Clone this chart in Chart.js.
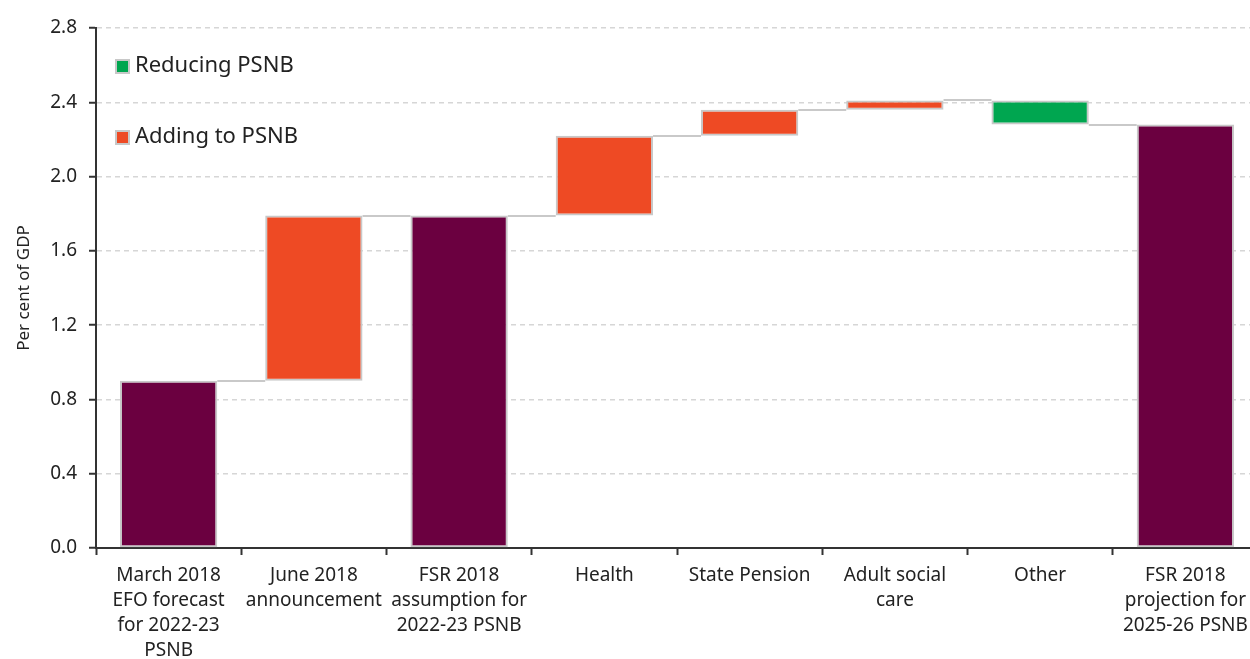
<!DOCTYPE html>
<html>
<head>
<meta charset="utf-8">
<script src="https://cdn.jsdelivr.net/npm/chart.js@4/dist/chart.umd.min.js"></script>
<style>
  html, body { margin: 0; padding: 0; background: #fff; overflow: hidden; }
  #wrap { width: 1250px; height: 659px; overflow: hidden; position: relative; }
  #wrap canvas { position: absolute; left: 0; top: 0; }
</style>
</head>
<body>
<div id="wrap"><canvas id="chart" width="1258" height="680"></canvas></div>
<script>
// --- data ---
const categories = [
  ['March 2018', 'EFO forecast', 'for 2022-23', 'PSNB'],
  ['June 2018', 'announcement'],
  ['FSR 2018', 'assumption for', '2022-23 PSNB'],
  ['Health'],
  ['State Pension'],
  ['Adult social', 'care'],
  ['Other'],
  ['FSR 2018', 'projection for', '2025-26 PSNB']
];
const barStart = [0, 0.9, 0, 1.79, 2.22, 2.36, 2.41, 0];
const barEnd   = [0.9, 1.79, 1.79, 2.22, 2.36, 2.41, 2.28, 2.28];
const barKind  = ['total', 'add', 'total', 'add', 'add', 'add', 'reduce', 'total'];
const yTicks   = [0, 0.4, 0.8, 1.2, 1.6, 2.0, 2.4, 2.8];

const colours = { total: '#6b0040', add: '#ee4a24', reduce: '#00a650' };
const FONT = '"Noto Sans", sans-serif';
const BAR_PCT = 0.67;

function seriesFor(kind) {
  return barStart.map((s, i) => barKind[i] === kind ? [s, barEnd[i]] : null);
}

// connectors between the bars (grey lines at the running total)
const connectors = {
  id: 'connectors',
  beforeDatasetsDraw(chart) {
    const x = chart.scales.x, y = chart.scales.y, ctx = chart.ctx;
    const half = (x.getPixelForValue(1) - x.getPixelForValue(0)) * BAR_PCT / 2;
    ctx.save();
    ctx.strokeStyle = '#c9c9c9';
    ctx.lineWidth = 2;
    for (let i = 0; i < barEnd.length - 1; i++) {
      const py = Math.round(y.getPixelForValue(barEnd[i]));
      ctx.beginPath();
      ctx.moveTo(x.getPixelForValue(i) + half, py);
      ctx.lineTo(x.getPixelForValue(i + 1) - half, py);
      ctx.stroke();
    }
    ctx.restore();
  }
};

// legend drawn inside the plot, top-left
const legendItems = [
  { text: 'Reducing PSNB', colour: colours.reduce, value: 2.594 },
  { text: 'Adding to PSNB', colour: colours.add, value: 2.212 }
];
const insideLegend = {
  id: 'insideLegend',
  afterDraw(chart) {
    const ctx = chart.ctx, y = chart.scales.y;
    const left = chart.chartArea.left + 20;
    ctx.save();
    ctx.font = '22px ' + FONT;
    ctx.textBaseline = 'middle';
    legendItems.forEach(it => {
      const cy = Math.round(y.getPixelForValue(it.value));
      ctx.fillStyle = '#c8c8c8';
      ctx.fillRect(left - 1, cy - 7, 15, 15);
      ctx.fillStyle = it.colour;
      ctx.fillRect(left + 1, cy - 5, 11, 11);
      ctx.fillStyle = '#222';
      ctx.fillText(it.text, left + 19, cy);
    });
    ctx.restore();
  }
};

const ctx = document.getElementById('chart').getContext('2d');
new Chart(ctx, {
  type: 'bar',
  data: {
    labels: categories,
    datasets: ['total', 'add', 'reduce'].map(k => ({
      label: k,
      data: seriesFor(k),
      backgroundColor: colours[k],
      borderColor: '#c8c8c8',
      borderWidth: 2,
      borderSkipped: false,
      grouped: false,
      categoryPercentage: 1,
      barPercentage: BAR_PCT
    }))
  },
  options: {
    responsive: false,
    animation: false,
    devicePixelRatio: 1,
    layout: { padding: { top: 28, left: 0, right: 0, bottom: 0 } },
    plugins: {
      legend: { display: false },
      tooltip: { enabled: false }
    },
    scales: {
      x: {
        offset: true,
        afterFit(scale) { scale.height = 680 - 548; },
        grid: {
          offset: true,
          drawOnChartArea: false,
          drawTicks: true,
          tickLength: 7,
          tickColor: '#333',
          tickWidth: 2
        },
        border: { color: '#333', width: 2 },
        ticks: {
          autoSkip: false,
          maxRotation: 0,
          minRotation: 0,
          padding: 8,
          color: '#222',
          font: { family: FONT, size: 19, lineHeight: 1.32 }
        }
      },
      y: {
        min: 0,
        max: 2.8,
        afterFit(scale) { scale.width = 96; },
        afterBuildTicks(scale) { scale.ticks = yTicks.map(v => ({ value: v })); },
        grid: {
          color: c => c.tick && c.tick.value === 0 ? 'rgba(0,0,0,0)' : '#d6d6d6',
          lineWidth: 1.5,
          tickColor: '#333',
          tickWidth: 2,
          tickLength: 7,
          tickBorderDash: []
        },
        border: { color: '#333', width: 2, dash: [5, 4] },
        ticks: {
          padding: 12,
          color: '#222',
          font: { family: FONT, size: 19 },
          callback: v => Number(v).toFixed(1)
        },
        title: {
          display: true,
          text: 'Per cent of GDP',
          color: '#222',
          font: { family: FONT, size: 17 },
          padding: { top: 14, bottom: 0 }
        }
      }
    }
  },
  plugins: [connectors, insideLegend]
});
</script>
</body>
</html>
